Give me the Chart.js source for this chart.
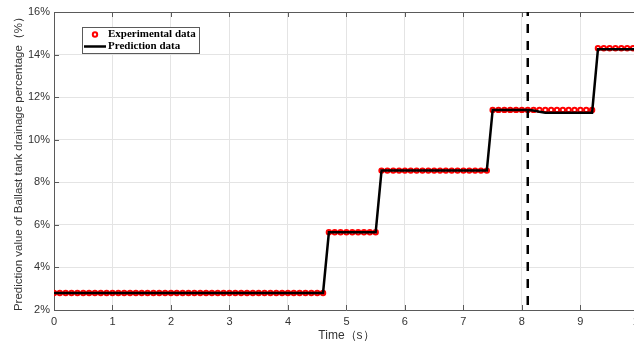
<!DOCTYPE html>
<html>
<head>
<meta charset="utf-8">
<script src="https://cdn.jsdelivr.net/npm/chart.js@4.4.1/dist/chart.umd.min.js"></script>
<style>
html, body { margin: 0; padding: 0; overflow: hidden; background: #fff; }
#wrap { width: 634px; height: 347px; overflow: hidden; }
canvas { display: block; }
</style>
</head>
<body>
<div id="wrap"><canvas id="chart" width="650" height="347"></canvas></div>
<script>
// time axis, one sample every 0.1 s
const timeS = [
  0.0, 0.1, 0.2, 0.3, 0.4, 0.5, 0.6, 0.7, 0.8, 0.9,
  1.0, 1.1, 1.2, 1.3, 1.4, 1.5, 1.6, 1.7, 1.8, 1.9,
  2.0, 2.1, 2.2, 2.3, 2.4, 2.5, 2.6, 2.7, 2.8, 2.9,
  3.0, 3.1, 3.2, 3.3, 3.4, 3.5, 3.6, 3.7, 3.8, 3.9,
  4.0, 4.1, 4.2, 4.3, 4.4, 4.5, 4.6, 4.7, 4.8, 4.9,
  5.0, 5.1, 5.2, 5.3, 5.4, 5.5, 5.6, 5.7, 5.8, 5.9,
  6.0, 6.1, 6.2, 6.3, 6.4, 6.5, 6.6, 6.7, 6.8, 6.9,
  7.0, 7.1, 7.2, 7.3, 7.4, 7.5, 7.6, 7.7, 7.8, 7.9,
  8.0, 8.1, 8.2, 8.3, 8.4, 8.5, 8.6, 8.7, 8.8, 8.9,
  9.0, 9.1, 9.2, 9.3, 9.4, 9.5, 9.6, 9.7, 9.8, 9.9,
  10.0
];

const experimental = [
  2.8, 2.8, 2.8, 2.8, 2.8, 2.8, 2.8, 2.8, 2.8, 2.8,
  2.8, 2.8, 2.8, 2.8, 2.8, 2.8, 2.8, 2.8, 2.8, 2.8,
  2.8, 2.8, 2.8, 2.8, 2.8, 2.8, 2.8, 2.8, 2.8, 2.8,
  2.8, 2.8, 2.8, 2.8, 2.8, 2.8, 2.8, 2.8, 2.8, 2.8,
  2.8, 2.8, 2.8, 2.8, 2.8, 2.8, 2.8, 5.65, 5.65, 5.65,
  5.65, 5.65, 5.65, 5.65, 5.65, 5.65, 8.55, 8.55, 8.55, 8.55,
  8.55, 8.55, 8.55, 8.55, 8.55, 8.55, 8.55, 8.55, 8.55, 8.55,
  8.55, 8.55, 8.55, 8.55, 8.55, 11.4, 11.4, 11.4, 11.4, 11.4,
  11.4, 11.4, 11.4, 11.4, 11.4, 11.4, 11.4, 11.4, 11.4, 11.4,
  11.4, 11.4, 11.4, 14.3, 14.3, 14.3, 14.3, 14.3, 14.3, 14.3,
  14.3
];

const prediction = [
  2.8, 2.8, 2.8, 2.8, 2.8, 2.8, 2.8, 2.8, 2.8, 2.8,
  2.8, 2.8, 2.8, 2.8, 2.8, 2.8, 2.8, 2.8, 2.8, 2.8,
  2.8, 2.8, 2.8, 2.8, 2.8, 2.8, 2.8, 2.8, 2.8, 2.8,
  2.8, 2.8, 2.8, 2.8, 2.8, 2.8, 2.8, 2.8, 2.8, 2.8,
  2.8, 2.8, 2.8, 2.8, 2.8, 2.8, 2.8, 5.65, 5.65, 5.65,
  5.65, 5.65, 5.65, 5.65, 5.65, 5.65, 8.55, 8.55, 8.55, 8.55,
  8.55, 8.55, 8.55, 8.55, 8.55, 8.55, 8.55, 8.55, 8.55, 8.55,
  8.55, 8.55, 8.55, 8.55, 8.55, 11.4, 11.4, 11.4, 11.4, 11.4,
  11.4, 11.4, 11.37, 11.31, 11.27, 11.27, 11.27, 11.27, 11.27, 11.27,
  11.27, 11.27, 11.27, 14.25, 14.25, 14.25, 14.25, 14.25, 14.25, 14.25,
  14.25
];

const dividerTime = 8.1;
const xTicks = [0, 1, 2, 3, 4, 5, 6, 7, 8, 9, 10];
const yTicks = [2, 4, 6, 8, 10, 12, 14, 16];

const axisColor = '#5a5a5a';
const gridColor = '#e4e4e4';
const textColor = '#333333';
const tickFont = { family: 'Liberation Sans, Arial, sans-serif', size: 11 };

const pairs = (xs, ys) => xs.map((x, i) => ({ x: x, y: ys[i] }));

// MATLAB style box: top edge plus inward ticks
const framePlugin = {
  id: 'frame',
  beforeDatasetsDraw(chart) {
    const { ctx, chartArea: a, scales: { x, y } } = chart;
    ctx.save();
    ctx.strokeStyle = axisColor;
    ctx.lineWidth = 1;
    ctx.beginPath();
    ctx.moveTo(a.left, a.top + 0.5);
    ctx.lineTo(a.right, a.top + 0.5);
    xTicks.forEach(v => {
      const px = Math.round(x.getPixelForValue(v)) + 0.5;
      ctx.moveTo(px, a.bottom);
      ctx.lineTo(px, a.bottom - 5);
      ctx.moveTo(px, a.top);
      ctx.lineTo(px, a.top + 5);
    });
    yTicks.forEach(v => {
      const py = Math.round(y.getPixelForValue(v)) + 0.5;
      ctx.moveTo(a.left, py);
      ctx.lineTo(a.left + 5, py);
    });
    ctx.stroke();
    ctx.restore();
  }
};

const legendBoxPlugin = {
  id: 'legendBox',
  afterDraw(chart) {
    const ctx = chart.ctx;
    const items = chart.data.datasets.filter(d => d.inLegend);
    const left = 82, top = 27, w = 117, rowH = 12;
    ctx.save();
    ctx.fillStyle = '#fff';
    ctx.fillRect(left, top, w, 26);
    ctx.strokeStyle = axisColor;
    ctx.lineWidth = 1;
    ctx.strokeRect(left + 0.5, top + 0.5, w, 26);
    ctx.font = 'bold 11px "Liberation Serif", "Times New Roman", serif';
    ctx.textBaseline = 'middle';
    ctx.fillStyle = '#000';
    items.forEach((d, i) => {
      const cy = top + 7.5 + i * rowH;
      if (d.pointRadius > 0) {
        ctx.beginPath();
        ctx.arc(95, cy, d.pointRadius, 0, Math.PI * 2);
        ctx.fillStyle = d.pointBackgroundColor;
        ctx.fill();
        ctx.strokeStyle = d.pointBorderColor;
        ctx.lineWidth = d.pointBorderWidth;
        ctx.stroke();
      } else {
        ctx.beginPath();
        ctx.moveTo(84, cy);
        ctx.lineTo(106, cy);
        ctx.strokeStyle = d.borderColor;
        ctx.lineWidth = d.borderWidth;
        ctx.stroke();
      }
      ctx.fillStyle = '#000';
      ctx.fillText(d.label, 108, cy);
    });
    ctx.restore();
  }
};

new Chart(document.getElementById('chart'), {
  type: 'line',
  data: {
    datasets: [
      {
        label: 'Experimental data',
        inLegend: true,
        data: pairs(timeS, experimental),
        showLine: false,
        pointRadius: 2.2,
        pointBorderWidth: 2,
        pointBorderColor: '#ff0000',
        pointBackgroundColor: '#ffffff',
        order: 3
      },
      {
        label: 'Prediction data',
        inLegend: true,
        data: pairs(timeS, prediction),
        borderColor: '#000000',
        borderWidth: 2.5,
        pointRadius: 0,
        tension: 0,
        order: 2
      },
      {
        label: 'divider',
        inLegend: false,
        data: [{ x: dividerTime, y: yTicks[0] }, { x: dividerTime, y: yTicks[yTicks.length - 1] }],
        borderColor: '#000000',
        borderWidth: 2.5,
        borderDash: [9, 8],
        borderDashOffset: -5,
        pointRadius: 0,
        order: 1
      }
    ]
  },
  options: {
    responsive: false,
    animation: false,
    devicePixelRatio: 1,
    layout: { padding: { left: 0, top: 12, right: 6, bottom: 0 } },
    plugins: { legend: { display: false }, tooltip: { enabled: false } },
    scales: {
      x: {
        type: 'linear',
        min: xTicks[0],
        max: xTicks[xTicks.length - 1],
        afterBuildTicks: s => { s.ticks = xTicks.map(v => ({ value: v })); },
        afterFit: s => { s.height = 37; },
        grid: { color: gridColor, drawTicks: false },
        border: { color: axisColor, width: 1 },
        ticks: { color: textColor, font: tickFont, padding: 5, maxRotation: 0, autoSkip: false },
        title: {
          display: true,
          text: 'Time（s）',
          color: textColor,
          font: { family: 'Liberation Sans, Arial, sans-serif', size: 12 },
          padding: { top: 0, bottom: 4 }
        }
      },
      y: {
        type: 'linear',
        min: yTicks[0],
        max: yTicks[yTicks.length - 1],
        afterBuildTicks: s => { s.ticks = yTicks.map(v => ({ value: v })); },
        afterFit: s => { s.width = 54; },
        grid: { color: gridColor, drawTicks: false },
        border: { color: axisColor, width: 1 },
        ticks: { color: textColor, font: tickFont, padding: 4, callback: v => v + '%' },
        title: {
          display: true,
          text: 'Prediction value of Ballast tank drainage percentage（%）',
          color: textColor,
          font: { family: 'Liberation Sans, Arial, sans-serif', size: 11.5 },
          padding: { top: 12, bottom: 0 }
        }
      }
    }
  },
  plugins: [framePlugin, legendBoxPlugin]
});
</script>
</body>
</html>
